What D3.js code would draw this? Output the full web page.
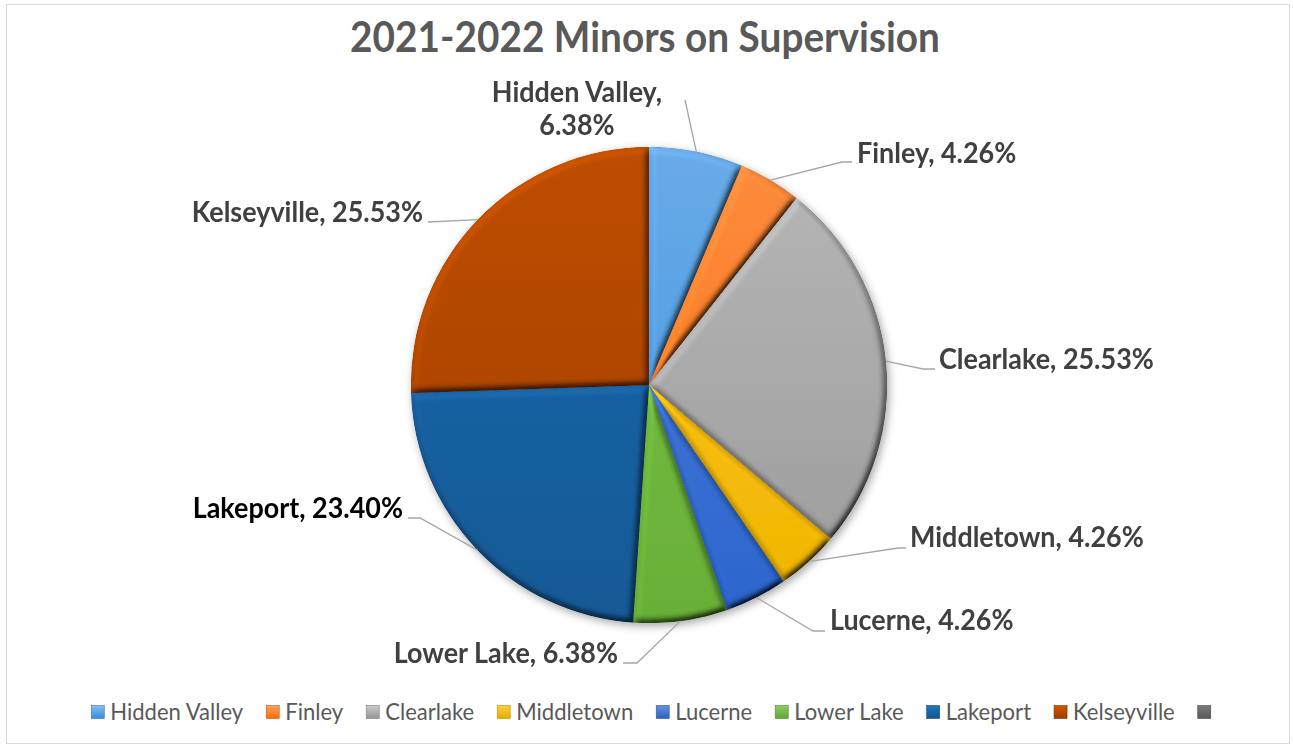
<!DOCTYPE html>
<html>
<head>
<meta charset="utf-8">
<script src="https://cdn.jsdelivr.net/npm/d3@7"></script>
<style>
  body { margin: 0; background: #fff; }
  text { font-family: Lato, "Open Sans", sans-serif; }
</style>
</head>
<body>
<div id="chart"></div>
<script>
const categories = ["Hidden Valley", "Finley", "Clearlake", "Middletown", "Lucerne", "Lower Lake", "Lakeport", "Kelseyville", ""];
const shares = [6.38, 4.26, 25.53, 4.26, 4.26, 6.38, 23.40, 25.53, 0];
const colors = ["#5B9BD5", "#ED7D31", "#A5A5A5", "#FFC000", "#4472C4", "#70AD47", "#255E91", "#9E480E", "#636363"];
const title = "2021-2022 Minors on Supervision";

const width = 1293, height = 747;
const cx = 649, cy = 385, radius = 238;
const squeeze = 0.92; // narrow the glyphs a little, Calibri-like

// label placement, relative to pie centre (baseline, anchor, leader elbow)
const labelLayout = [
    {x: -72, y: -283, anchor: "middle", lines: 2, pts: [[36, -285]]},
    {x: 208, y: -222, anchor: "start", pts: [[193, -223], [203, -223]]},
    {x: 290, y: -16, anchor: "start", pts: [[274, -16], [286, -16]]},
    {x: 261, y: 162, anchor: "start", pts: [[249, 163], [257, 163]]},
    {x: 181, y: 245, anchor: "start", pts: [[164, 246], [176, 246]]},
    {x: -31, y: 278, anchor: "end", pts: [[-12, 278], [-26, 278]]},
    {x: -246, y: 133, anchor: "end", pts: [[-229, 133], [-241, 133]]},
    {x: -226, y: -163, anchor: "end", pts: [[-221, -163]]}
];

const svg = d3.select("#chart").append("svg")
    .attr("width", width)
    .attr("height", height);

const defs = svg.append("defs");

// bevel lighting
const bevel = defs.append("filter").attr("id", "bevel")
    .attr("x", "-5%").attr("y", "-5%").attr("width", "110%").attr("height", "110%");
bevel.append("feGaussianBlur").attr("in", "SourceAlpha").attr("stdDeviation", 3.5).attr("result", "blur");
bevel.append("feDiffuseLighting").attr("in", "blur").attr("surfaceScale", 6)
    .attr("diffuseConstant", 1).attr("lighting-color", "#fff").attr("result", "light")
    .append("feDistantLight").attr("azimuth", 235).attr("elevation", 55);
bevel.append("feComposite").attr("in", "SourceGraphic").attr("in2", "light")
    .attr("operator", "arithmetic").attr("k1", 1.2).attr("k2", 0).attr("k3", 0).attr("k4", 0);

const shadow = defs.append("filter").attr("id", "shadow")
    .attr("x", "-10%").attr("y", "-10%").attr("width", "120%").attr("height", "120%");
shadow.append("feDropShadow").attr("dx", 2).attr("dy", 3).attr("stdDeviation", 4)
    .attr("flood-color", "#000").attr("flood-opacity", 0.35);

function vivid(c) {
    const h = d3.hsl(c);
    h.s = Math.min(1, h.s * 1.25);
    return h;
}

colors.forEach((c, i) => {
    const g = defs.append("linearGradient").attr("id", "grad" + i)
        .attr("gradientUnits", "userSpaceOnUse")
        .attr("x1", 0).attr("y1", -radius).attr("x2", 0).attr("y2", radius);
    g.append("stop").attr("offset", "0%").attr("stop-color", vivid(c).brighter(0.3));
    g.append("stop").attr("offset", "100%").attr("stop-color", vivid(c).darker(0.15));
    const s = defs.append("linearGradient").attr("id", "sw" + i)
        .attr("x1", 0).attr("y1", 0).attr("x2", 0).attr("y2", 1);
    s.append("stop").attr("offset", "0%").attr("stop-color", vivid(c).brighter(0.6));
    s.append("stop").attr("offset", "100%").attr("stop-color", vivid(c).darker(0.3));
});

// chart border
svg.append("rect")
    .attr("x", 6.5).attr("y", 4.5)
    .attr("width", 1283).attr("height", 739)
    .attr("fill", "#fff").attr("stroke", "#d9d9d9");

// fit text font size to a target width, then squeeze horizontally
function fitSize(parent, str, weight, target) {
    const p = parent.append("text").attr("font-weight", weight).attr("font-size", 30).text(str);
    const size = 30 * target / (p.node().getComputedTextLength() * squeeze);
    p.remove();
    return size;
}

// title
const titleSize = fitSize(svg, title, "bold", 590);
svg.append("text")
    .attr("transform", `translate(645,52) scale(${squeeze},1)`)
    .attr("text-anchor", "middle")
    .attr("font-weight", "bold")
    .attr("font-size", titleSize)
    .attr("fill", "#595959")
    .text(title);

// pie
const pie = d3.pie().sort(null).value(d => d.value);
const arc = d3.arc().innerRadius(0).outerRadius(radius);
const slices = pie(categories.map((name, i) => ({name, value: shares[i], i})));

const pieG = svg.append("g")
    .attr("transform", `translate(${cx},${cy})`)
    .attr("filter", "url(#shadow)");

pieG.selectAll("path")
    .data(slices.filter(d => d.value > 0))
    .join("path")
    .attr("d", arc)
    .attr("fill", d => `url(#grad${d.data.i})`)
    .attr("filter", "url(#bevel)");

// labels
const labelG = svg.append("g").attr("transform", `translate(${cx},${cy})`);
const labelSize = fitSize(labelG, "Clearlake, 25.53%", "bold", 215);

slices.filter(d => d.value > 0).forEach(d => {
    const lay = labelLayout[d.data.i];
    const mid = (d.startAngle + d.endAngle) / 2;
    const edge = [radius * Math.sin(mid), -radius * Math.cos(mid)];
    labelG.append("path")
        .attr("d", d3.line()([edge, ...lay.pts]))
        .attr("fill", "none")
        .attr("stroke", "#a6a6a6")
        .attr("stroke-width", 1.3);

    const pct = d3.format(".2f")(d.value) + "%";
    const t = labelG.append("text")
        .attr("transform", `translate(${lay.x},${lay.y}) scale(${squeeze},1)`)
        .attr("text-anchor", lay.anchor)
        .attr("font-weight", "bold")
        .attr("font-size", labelSize)
        .attr("fill", d.data.name === "Lakeport" ? "#000" : "#404040");
    if (lay.lines === 2) {
        t.append("tspan").attr("x", 0).text(d.data.name + ",");
        t.append("tspan").attr("x", 0).attr("dy", 33).text(pct);
    } else {
        t.text(d.data.name + ", " + pct);
    }
});

// legend
const legendG = svg.append("g");
const legendSize = fitSize(legendG, "Hidden Valley", "normal", 133);

const sw = 13, swGap = 6, itemGap = 23, legendY = 712;
let lx = 0;
categories.forEach((name, i) => {
    const g = legendG.append("g").attr("transform", `translate(${lx},0)`);
    g.append("rect")
        .attr("x", 0).attr("y", -sw / 2)
        .attr("width", sw).attr("height", sw)
        .attr("fill", `url(#sw${i})`)
        .attr("stroke", d3.color(colors[i]).darker(0.8))
        .attr("stroke-width", 0.6);
    const t = g.append("text")
        .attr("transform", `translate(${sw + swGap},7.5) scale(${squeeze},1)`)
        .attr("font-size", legendSize)
        .attr("fill", "#595959")
        .text(name);
    const w = sw + (name ? swGap + t.node().getComputedTextLength() * squeeze : 0);
    lx += w + itemGap;
});
const legendW = lx - itemGap;
legendG.attr("transform", `translate(${651 - legendW / 2},${legendY})`);
</script>
</body>
</html>
